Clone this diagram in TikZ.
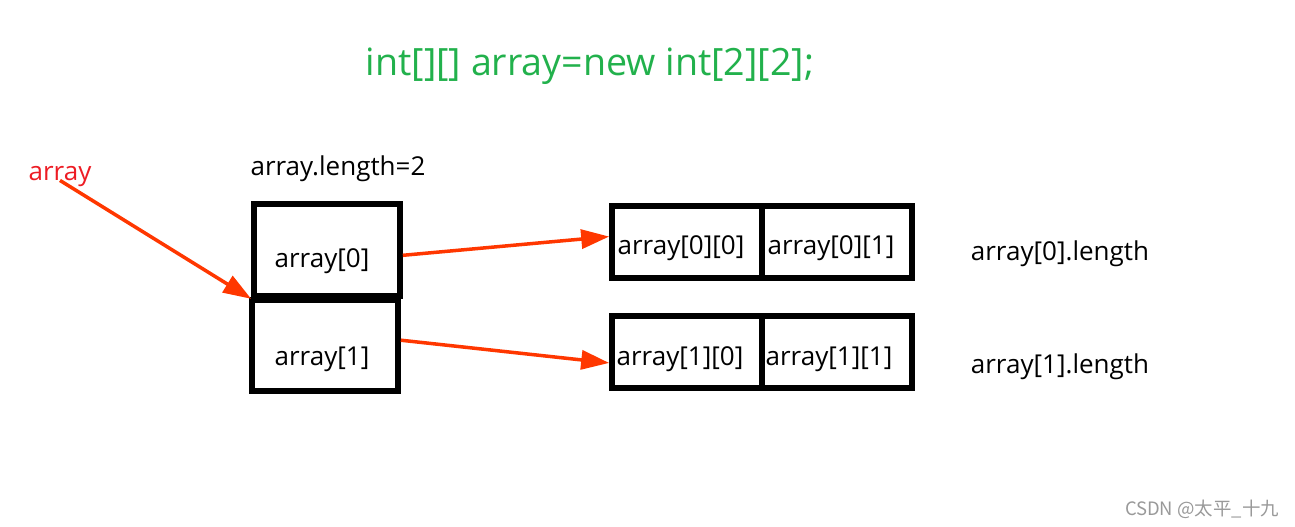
\documentclass[tikz,border=0pt]{standalone}
\usepackage{fontspec}
\setmainfont{Open Sans}
\newfontfamily\cjk{Noto Sans CJK SC}
\usetikzlibrary{arrows.meta}
\definecolor{codegreen}{RGB}{34,177,76}
\definecolor{ptrred}{RGB}{255,55,0}
\definecolor{namered}{RGB}{237,28,36}
\begin{document}
\begin{tikzpicture}[x=0.2mm,y=-0.2mm,
  every node/.style={font=\fontsize{14.8}{16}\selectfont,inner sep=0pt,text depth=0pt},
  slotbox/.style={draw,line width=3.2pt,minimum width=29.2mm,minimum height=18.4mm},
  cellbox/.style={draw,line width=3.2pt,minimum width=30mm,minimum height=14.4mm},
  ptr/.style={ptrred,line width=2pt,-{Triangle[length=5.6mm,width=3.8mm]}}]
\useasboundingbox (0,0) rectangle (1295,526);
\node[text=codegreen,font=\fontsize{21.4}{24}\selectfont] (title) at (590,62) {int[][] array=new int[2][2];};
\node[text=namered] (arr) at (60,173) {array};
\node (len) at (338,166) {array.length=2};
\node[slotbox] (box0) at (327,250) {};
\node[slotbox,minimum height=18.2mm] (box1) at (325,345.5) {};
\node at ([shift={(-5,8)}]box0.center) (t0) {array[0]};
\node at ([shift={(-3,11)}]box1.center) (t1) {array[1]};
\node[cellbox] (c00) at (687,242) {};
\node[cellbox] (c01) at (837,242) {};
\node[cellbox] (c10) at (687,352) {};
\node[cellbox] (c11) at (837,352) {};
\node at ([shift={(-6,3)}]c00.center) (t00) {array[0][0]};
\node at ([shift={(-6,3)}]c01.center) (t01) {array[0][1]};
\node at ([shift={(-7,4)}]c10.center) (t10) {array[1][0]};
\node at ([shift={(-8,4)}]c11.center) (t11) {array[1][1]};
\node (len0) at (1060,251) {array[0].length};
\node (len1) at (1060,364) {array[1].length};
\draw[ptr] (arr.south) -- (box0.south west);
\draw[ptr] (box0.-4) -- (c00.176);
\draw[ptr] (box1.4) -- (c10.-172);
\node[text=black!40,font=\cjk\fontsize{10.5}{12}\selectfont] (mark) at (1202,508) {CSDN @太平\_十九};
\end{tikzpicture}
\end{document}
